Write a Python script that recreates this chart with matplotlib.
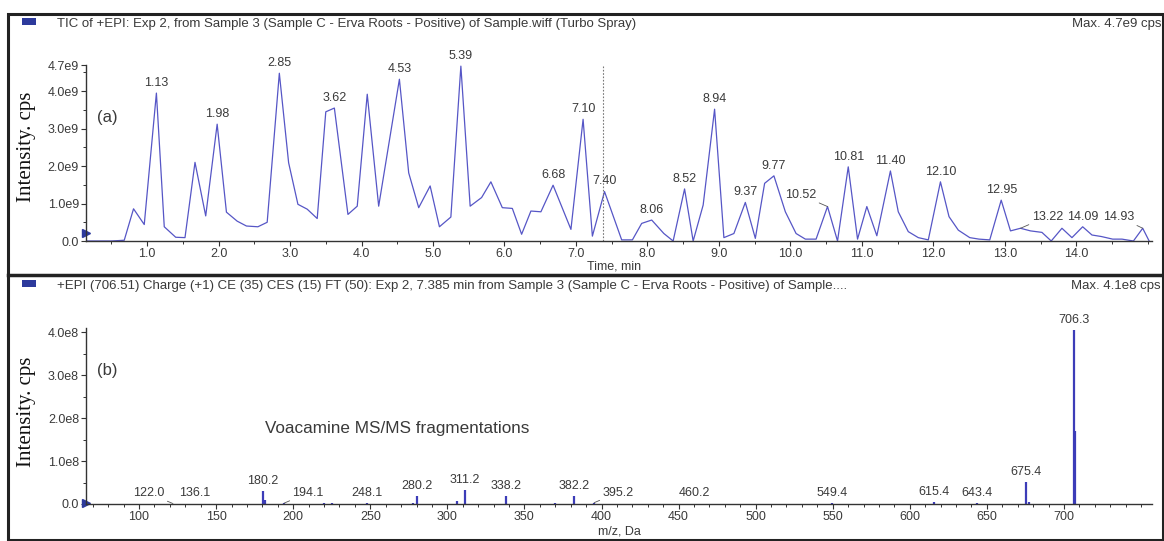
import numpy as np
import matplotlib
matplotlib.use("Agg")
import matplotlib.pyplot as plt
from matplotlib.lines import Line2D
from matplotlib.patches import Rectangle

plt.rcParams['font.family'] = ['Liberation Sans', 'DejaVu Sans']

# ---- TIC trace (panel a) ----
tic_time = [0.15, 0.3, 0.5, 0.68, 0.81, 0.96, 1.13, 1.24, 1.40, 1.53, 1.67, 1.82, 1.98,
            2.11, 2.26, 2.39, 2.55, 2.68, 2.85, 2.98, 3.11, 3.24, 3.38, 3.50, 3.62, 3.81,
            3.94, 4.08, 4.24, 4.53, 4.66, 4.80, 4.96, 5.09, 5.25, 5.39, 5.52, 5.68, 5.81,
            5.97, 6.11, 6.24, 6.37, 6.51, 6.68, 6.93, 7.10, 7.23, 7.40, 7.64, 7.79, 7.92,
            8.06, 8.23, 8.36, 8.52, 8.64, 8.78, 8.94, 9.07, 9.21, 9.37, 9.51, 9.64, 9.77,
            9.93, 10.08, 10.21, 10.36, 10.52, 10.66, 10.81, 10.94, 11.07, 11.21, 11.40,
            11.51, 11.65, 11.79, 11.93, 12.10, 12.22, 12.35, 12.51, 12.64, 12.79, 12.95,
            13.08, 13.22, 13.36, 13.52, 13.65, 13.80, 13.94, 14.09, 14.22, 14.35, 14.51,
            14.64, 14.80, 14.93, 15.02]
tic_int = [0.0, 0.0, 0.0, 0.02, 0.86, 0.44, 3.95, 0.38, 0.10, 0.09, 2.10, 0.67, 3.12,
           0.77, 0.53, 0.40, 0.38, 0.50, 4.48, 2.09, 0.98, 0.85, 0.60, 3.45, 3.55, 0.71,
           0.93, 3.92, 0.93, 4.32, 1.82, 0.89, 1.47, 0.38, 0.64, 4.67, 0.93, 1.16, 1.58,
           0.89, 0.87, 0.18, 0.80, 0.78, 1.49, 0.31, 3.25, 0.13, 1.32, 0.03, 0.03, 0.47,
           0.56, 0.20, 0.0, 1.39, 0.0, 0.96, 3.52, 0.09, 0.20, 1.03, 0.07, 1.54, 1.74,
           0.78, 0.20, 0.05, 0.05, 0.92, 0.0, 1.98, 0.05, 0.92, 0.14, 1.87,
           0.78, 0.25, 0.09, 0.03, 1.58, 0.65, 0.29, 0.09, 0.05, 0.03, 1.09,
           0.27, 0.34, 0.27, 0.23, 0.0, 0.34, 0.09, 0.38, 0.16, 0.12, 0.05,
           0.05, 0.0, 0.34, 0.0]  # x 1e9

tic_peaks = ["1.13", "1.98", "2.85", "3.62", "4.53", "5.39", "6.68", "7.10", "7.40",
             "8.06", "8.52", "8.94", "9.37", "9.77", "10.81", "11.40", "12.10", "12.95",
             "14.09"]
tic_hooked = {"10.52": (-8, 4), "13.22": (8, 4), "14.93": (-6, 4)}

# ---- MS/MS spectrum (panel b) ----
ms_mz = [122.0, 130.0, 136.1, 180.2, 182.0, 194.1, 208.0, 220.0, 225.0, 248.1, 278.0,
         280.2, 306.0, 311.2, 320.0, 338.2, 370.0, 382.2, 395.2, 460.2, 549.4, 615.4,
         643.4, 675.4, 677.0, 706.3, 707.3]
ms_int = [0.01, 0.01, 0.01, 0.30, 0.10, 0.02, 0.01, 0.03, 0.02, 0.02, 0.02,
          0.19, 0.07, 0.33, 0.01, 0.18, 0.03, 0.18, 0.03, 0.01, 0.02, 0.05,
          0.02, 0.52, 0.05, 4.05, 1.70]  # x 1e8
ms_labels = ["136.1", "180.2", "248.1", "280.2", "311.2", "338.2", "382.2", "460.2",
             "549.4", "615.4", "643.4", "675.4", "706.3"]
ms_hooked = {"122.0": (-6, 3), "194.1": (6, 3), "395.2": (6, 3)}

W, H = 1164, 541
fig = plt.figure(figsize=(W / 100, H / 100), dpi=100)

line_c = '#5656c6'
txt_c = '#3a3a3a'
fs = 9


def fx(px):
    return px / W


def fy(py):
    return 1 - py / H


# frames
fig.add_artist(Rectangle((fx(8), fy(540)), fx(1155), 526 / H, transform=fig.transFigure,
                         fill=False, ec='#222222', lw=2.2))
fig.add_artist(Line2D([fx(8), fx(1163)], [fy(275), fy(275)], transform=fig.transFigure,
                      color='#222222', lw=2.5))

# header rows
for yy, title, mx in [(21, "TIC of +EPI: Exp 2, from Sample 3 (Sample C - Erva Roots - Positive) of Sample.wiff (Turbo Spray)", "Max. 4.7e9 cps"),
                      (283, "+EPI (706.51) Charge (+1) CE (35) CES (15) FT (50): Exp 2, 7.385 min from Sample 3 (Sample C - Erva Roots - Positive) of Sample....", "Max. 4.1e8 cps")]:
    fig.add_artist(Rectangle((fx(22), fy(yy + 4)), fx(14), 7 / H, transform=fig.transFigure,
                             fc='#2d3a9c', ec='none'))
    fig.text(fx(57), fy(yy + 3), title, fontsize=9.5, color=txt_c, va='center')
    fig.text(fx(1161), fy(yy + 3), mx, fontsize=9.5, color=txt_c, va='center', ha='right')

for yc in (147, 412):
    fig.text(fx(27), fy(yc), "Intensity. cps", rotation=90, fontsize=15,
             family='Liberation Serif', va='center', ha='center', color='#111111')

# ---- panel a ----
ax1 = fig.add_axes([fx(86), fy(241), fx(1066), (241 - 65) / H])
t = np.array(tic_time)
y = np.array(tic_int) * 1e9
ax1.plot(t, y, color=line_c, lw=0.9)
ax1.set_xlim(0.145, 15.06)
ax1.set_ylim(0, 4.7e9)
ax1.axvline(7.385, color='#777777', lw=0.8, ls=(0, (1.5, 1.5)))

for lab in tic_peaks:
    i = tic_time.index(float(lab))
    ax1.annotate(lab, (t[i], y[i]), xytext=(0, 3), textcoords='offset points',
                 ha='center', va='bottom', fontsize=fs, color=txt_c)
for lab, off in tic_hooked.items():
    i = tic_time.index(float(lab))
    ax1.annotate(lab, (t[i], y[i]), xytext=off, textcoords='offset points',
                 ha='right' if off[0] < 0 else 'left', va='bottom', fontsize=fs, color=txt_c,
                 arrowprops=dict(arrowstyle='-', color='#555555', lw=0.6, shrinkA=0, shrinkB=0))
ax1.text(0.30, 3.3e9, "(a)", fontsize=12, color=txt_c, va='center')
ax1.plot([0.145], [0.22e9], marker='>', color='#2d3a9c', ms=6, clip_on=False)

ax1.set_xticks(np.arange(1, 15, 1.0))
ax1.set_xticklabels([f"{v:.1f}" for v in np.arange(1, 15, 1.0)])
ax1.set_xticks(np.arange(0.5, 15.01, 0.5), minor=True)
ax1.set_yticks([0, 1e9, 2e9, 3e9, 4e9, 4.7e9])
ax1.set_yticklabels(["0.0", "1.0e9", "2.0e9", "3.0e9", "4.0e9", "4.7e9"])
ax1.set_yticks(np.arange(0.5e9, 4.7e9, 1e9), minor=True)
ax1.text(7.15, -0.68e9, "Time, min", fontsize=fs, color=txt_c, va='center')

# ---- panel b ----
ax2 = fig.add_axes([fx(86), fy(504), fx(1066), (504 - 328) / H])
mz = np.array(ms_mz)
it = np.array(ms_int) * 1e8
ax2.vlines(mz, 0, it, color='#3c3cb8', lw=1.6)
ax2.set_xlim(65.6, 757.1)
ax2.set_ylim(0, 4.1e8)

for lab in ms_labels:
    i = ms_mz.index(float(lab))
    ax2.annotate(lab, (mz[i], it[i]), xytext=(0, 3), textcoords='offset points',
                 ha='center', va='bottom', fontsize=fs, color=txt_c)
for lab, off in ms_hooked.items():
    i = ms_mz.index(float(lab))
    ax2.annotate(lab, (mz[i], it[i]), xytext=off, textcoords='offset points',
                 ha='right' if off[0] < 0 else 'left', va='bottom', fontsize=fs, color=txt_c,
                 arrowprops=dict(arrowstyle='-', color='#555555', lw=0.6, shrinkA=0, shrinkB=0))
ax2.text(73, 3.12e8, "(b)", fontsize=12, color=txt_c, va='center')
ax2.text(181.7, 1.77e8, "Voacamine MS/MS fragmentations", fontsize=12.3, color=txt_c, va='center')
ax2.plot([65.6], [0.02e8], marker='>', color='#2d3a9c', ms=6, clip_on=False)

ax2.set_xticks(np.arange(100, 701, 50))
ax2.set_xticks(np.arange(70, 751, 10), minor=True)
ax2.set_yticks([0, 1e8, 2e8, 3e8, 4e8])
ax2.set_yticklabels(["0.0", "1.0e8", "2.0e8", "3.0e8", "4.0e8"])
ax2.set_yticks(np.arange(0.5e8, 4.1e8, 1e8), minor=True)
ax2.text(397.7, -0.65e8, "m/z, Da", fontsize=fs, color=txt_c, va='center')

for ax in (ax1, ax2):
    for s in ('top', 'right'):
        ax.spines[s].set_visible(False)
    for s in ('left', 'bottom'):
        ax.spines[s].set_color('#333333')
        ax.spines[s].set_linewidth(1.0)
    ax.set_facecolor('none')
    ax.tick_params(axis='both', which='major', labelsize=fs, colors='#333333',
                   labelcolor=txt_c, length=3.5, width=0.8, pad=1.5)
    ax.tick_params(axis='both', which='minor', colors='#333333', length=2, width=0.7)

fig.savefig("out.png", dpi=100)
